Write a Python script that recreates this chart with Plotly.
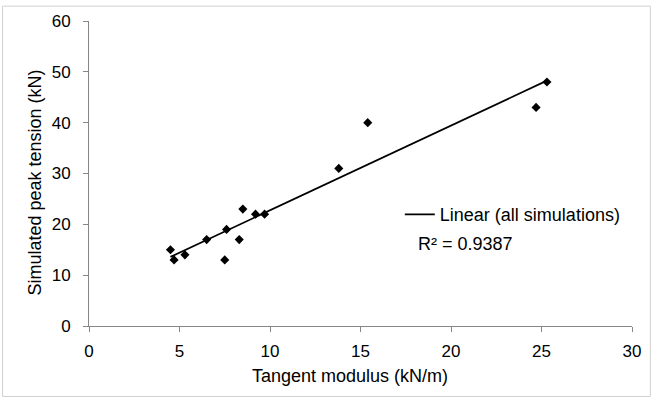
import numpy as np
import plotly.graph_objects as go

modulus = [4.5, 4.7, 5.3, 6.5, 7.5, 7.6, 8.3, 8.5, 9.2, 9.7, 13.8, 15.4, 24.7, 25.3]
tension = [15, 13, 14, 17, 13, 19, 17, 23, 22, 22, 31, 40, 43, 48]
x_ticks = [0, 5, 10, 15, 20, 25, 30]
y_ticks = [0, 10, 20, 30, 40, 50, 60]

slope, intercept = np.polyfit(modulus, tension, 1)
xl = [min(modulus), max(modulus)]
yl = [slope * v + intercept for v in xl]

W, H = 653, 399
L, R, T, B = 88.6, 20.4, 17, 73.3
pw, ph = W - L - R, H - T - B
FONT = "Liberation Sans, Arial"

def px(xp):
    return (xp - L) / pw

def py(yp):
    return (H - B - yp) / ph

fig = go.Figure()
fig.add_trace(go.Scatter(x=modulus, y=tension, mode="markers",
                         marker=dict(symbol="diamond", size=7, color="black"),
                         showlegend=False, cliponaxis=False))
fig.add_trace(go.Scatter(x=xl, y=yl, mode="lines", line=dict(color="black", width=1.75),
                         name="Linear (all simulations)", showlegend=True))

axis_common = dict(showgrid=False, zeroline=False, showline=True, linecolor="#868686",
                   linewidth=1, ticks="outside", ticklen=5, tickcolor="#868686",
                   tickfont=dict(family=FONT, size=17, color="black"))
fig.update_xaxes(range=[0, 30], tickvals=x_ticks, ticklabelstandoff=5, **axis_common)
fig.update_yaxes(range=[0, 60], tickvals=y_ticks, ticklabelstandoff=9, **axis_common)

fig.add_annotation(text="Tangent modulus (kN/m)", xref="paper", yref="paper",
                   x=px(350), y=py(376), xanchor="center", yanchor="middle", showarrow=False,
                   font=dict(family=FONT, size=18, color="black"))
fig.add_annotation(text="Simulated peak tension (kN)", xref="paper", yref="paper",
                   x=px(35), y=py(180), xanchor="center", yanchor="middle", showarrow=False,
                   textangle=-90, font=dict(family=FONT, size=18, color="black"))
fig.add_annotation(text="R² = 0.9387", xref="paper", yref="paper", x=px(416), y=py(243),
                   xanchor="left", yanchor="middle", showarrow=False,
                   font=dict(family=FONT, size=18, color="black"))

fig.add_shape(type="rect", xref="paper", yref="paper", x0=px(2), x1=px(651), y0=py(2), y1=py(397),
              line=dict(color="#d0d0d0", width=1), fillcolor="rgba(0,0,0,0)", layer="below")

fig.update_layout(width=W, height=H, margin=dict(l=L, r=R, t=T, b=B),
                  paper_bgcolor="white", plot_bgcolor="white",
                  legend=dict(x=px(400), y=py(213), xanchor="left", yanchor="middle",
                              bgcolor="rgba(0,0,0,0)", itemwidth=30,
                              font=dict(family=FONT, size=18, color="black")),
                  font=dict(family=FONT))

fig.write_html("out.html")
